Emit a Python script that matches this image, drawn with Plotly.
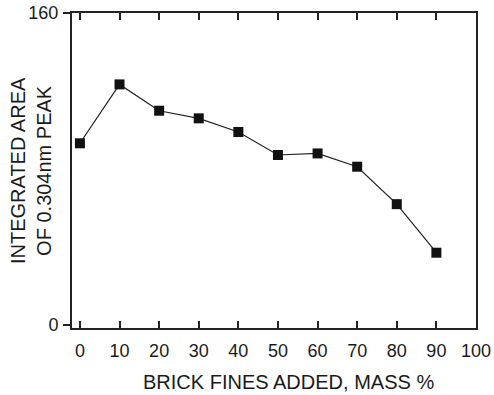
import plotly.graph_objects as go

brick_fines = [0, 10, 20, 30, 40, 50, 60, 70, 80, 90]
integrated_area = [93.2, 123.4, 109.9, 106.0, 99.0, 87.2, 88.0, 81.2, 62.0, 37.1]
x_tick_vals = [0, 10, 20, 30, 40, 50, 60, 70, 80, 90, 100]
y_tick_vals = [0, 160]

x_title = "BRICK FINES ADDED, MASS %"
y_title = "INTEGRATED AREA<br>OF 0.304nm PEAK"

fig = go.Figure()
fig.add_trace(go.Scatter(
    x=brick_fines, y=integrated_area, mode="lines+markers",
    line=dict(color="#222222", width=1.2),
    marker=dict(symbol="square", size=10, color="#111111"),
    showlegend=False,
))

font_family = "Liberation Sans, Arial, sans-serif"
fig.update_layout(
    width=494, height=395,
    margin=dict(l=72, r=18, t=13, b=67),
    paper_bgcolor="white", plot_bgcolor="white",
    font=dict(family=font_family, color="#1a1a1a", size=18),
    xaxis=dict(
        range=[-2, 100], tickvals=x_tick_vals, ticks="inside", ticklen=7,
        tickwidth=1.5, tickcolor="#222", showline=True, linecolor="#222",
        linewidth=2, mirror="ticks", showgrid=False, zeroline=False,
        ticklabelstandoff=5, tickfont=dict(size=18), automargin=False,
    ),
    yaxis=dict(
        range=[-1.5, 160], tickvals=y_tick_vals, ticks="outside", ticklen=7,
        tickwidth=1.5, tickcolor="#222", showline=True, linecolor="#222",
        linewidth=2, mirror=True, showgrid=False, zeroline=False,
        tickfont=dict(size=18), ticklabelstandoff=1, automargin=False,
    ),
    annotations=[
        dict(text=x_title, xref="paper", yref="paper", x=0.536, y=-0.171,
             xanchor="center", yanchor="middle", showarrow=False,
             font=dict(size=20, family=font_family, color="#1a1a1a")),
        dict(text=y_title, xref="paper", yref="paper", x=-0.1027, y=0.5,
             xanchor="center", yanchor="middle", showarrow=False, textangle=-90,
             font=dict(size=20, family=font_family, color="#1a1a1a")),
    ],
)

fig.write_html("out.html")
